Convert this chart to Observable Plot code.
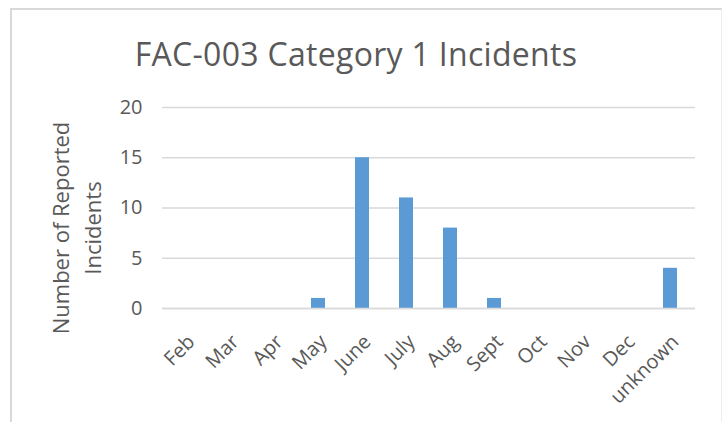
<!DOCTYPE html>
<html><head><meta charset="utf-8">
<script src="https://cdn.jsdelivr.net/npm/d3@7"></script>
<script src="https://cdn.jsdelivr.net/npm/@observablehq/plot@0.6"></script>
<style>
body{margin:0;background:#fff;font-family:"Open Sans",sans-serif;}
#wrap{position:relative;width:723px;height:422px;overflow:hidden;background:#fff;}
#frame{position:absolute;left:10px;top:8px;width:712px;height:440px;border-top:2px solid #d9d9d9;border-left:2px solid #d9d9d9;border-right:1px solid #ececec;box-sizing:border-box;}
#title{position:absolute;left:0;width:712px;top:34px;text-align:center;font-size:32px;font-weight:400;line-height:40px;color:#595959;white-space:nowrap;letter-spacing:0.3px;}
#chart{position:absolute;left:0;top:80px;}
#chart svg{overflow:visible;}
</style>
</head><body>
<div id="wrap">
<div id="frame"></div>
<div id="title">FAC-003 Category 1 Incidents</div>
<div id="chart"></div>
</div>
<script>
const categories = ["Feb","Mar","Apr","May","June","July","Aug","Sept","Oct","Nov","Dec","unknown"];
const incidents = [0,0,0,1,15,11,8,1,0,0,0,4];
const yTicks = [0,5,10,15,20];
const yLabel = "Number of Reported\nIncidents";

const data = categories.map((c,i)=>({month:c, value:incidents[i]}));

const chart = Plot.plot({
  width: 723,
  height: 342,
  marginTop: 27,
  marginBottom: 114,
  marginLeft: 162,
  marginRight: 28,
  style: {fontFamily: "'Open Sans', sans-serif", color: "#595959", background: "transparent", overflow: "visible"},
  x: {domain: categories, paddingInner: 0.68, paddingOuter: 0.34, label: null},
  y: {domain: [0,20], ticks: yTicks, label: null},
  marks: [
    Plot.gridY(yTicks, {stroke: "#d9d9d9", strokeOpacity: 1, strokeWidth: 1.5}),
    Plot.barY(data, {x: "month", y: "value", fill: "#5b9bd5"}),
    Plot.ruleY([0], {stroke: "#d9d9d9", strokeWidth: 1.5}),
    Plot.axisY({ticks: yTicks, tickSize: 0, tickPadding: 20, fontSize: 20, label: null}),
    Plot.axisX({tickSize: 0, tickPadding: 30, tickRotate: -45, fontSize: 20, dx: 5, label: null}),
    Plot.text([yLabel], {text: d=>d, frameAnchor: "left", textAnchor: "middle", rotate: -90, dx: -88, dy: 20, fontSize: 22, lineHeight: 1.45, fill: "#595959"})
  ]
});
document.getElementById("chart").appendChild(chart);
</script>
</body></html>
